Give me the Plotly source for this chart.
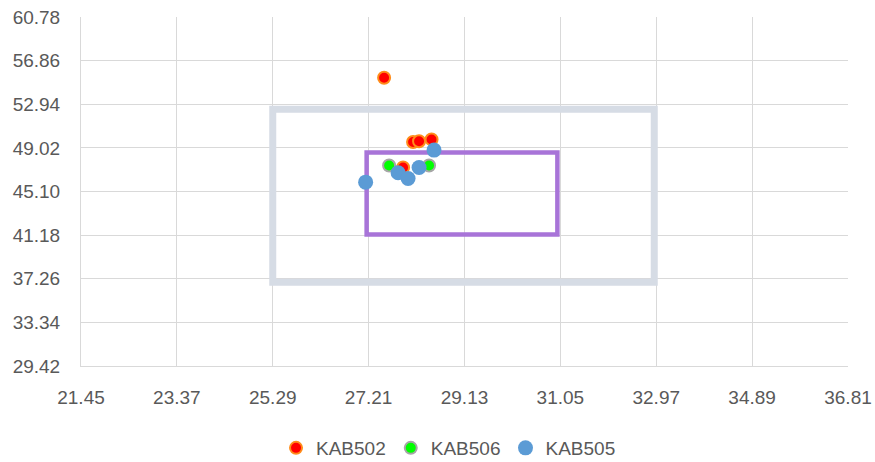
import plotly.graph_objects as go

# tick values shown on the axes
x_ticks = [21.45, 23.37, 25.29, 27.21, 29.13, 31.05, 32.97, 34.89, 36.81]
y_ticks = [29.42, 33.34, 37.26, 41.18, 45.10, 49.02, 52.94, 56.86, 60.78]

# series
kab502_x = [27.52, 28.10, 28.22, 28.47, 27.90]
kab502_y = [55.32, 49.55, 49.62, 49.78, 47.26]

kab506_x = [27.62, 28.42]
kab506_y = [47.44, 47.44]

kab505_x = [28.52, 27.15, 27.80, 28.00, 28.22]
kab505_y = [48.82, 45.94, 46.78, 46.27, 47.26]

# reference boxes (x0, x1, y0, y1)
outer_box = [25.29, 32.93, 36.95, 52.48]
inner_box = [27.17, 30.99, 41.24, 48.61]

font_family = "Liberation Sans, Arial, sans-serif"
grey_text = "#595959"

fig = go.Figure()

fig.add_trace(go.Scatter(
    x=kab502_x, y=kab502_y, mode="markers", name="KAB502",
    marker=dict(size=12, color="#FF0000", line=dict(color="#FF8C1A", width=2)),
))
fig.add_trace(go.Scatter(
    x=kab506_x, y=kab506_y, mode="markers", name="KAB506",
    marker=dict(size=12, color="#00FF00", line=dict(color="#A6A6A6", width=2)),
))
fig.add_trace(go.Scatter(
    x=kab505_x, y=kab505_y, mode="markers", name="KAB505",
    marker=dict(size=15, color="#5B9BD5", line=dict(width=0)),
))

fig.add_shape(type="rect", xref="x", yref="y", layer="between",
              x0=outer_box[0], x1=outer_box[1], y0=outer_box[2], y1=outer_box[3],
              line=dict(color="#D6DCE5", width=7))
fig.add_shape(type="rect", xref="x", yref="y", layer="between",
              x0=inner_box[0], x1=inner_box[1], y0=inner_box[2], y1=inner_box[3],
              line=dict(color="#A874D8", width=4.5))

axis_style = dict(
    showgrid=True, gridcolor="#D9D9D9", gridwidth=1,
    showline=True, linecolor="#D9D9D9", mirror=False,
    zeroline=False, ticks="", automargin=False, ticklabeloverflow="allow",
    tickfont=dict(size=19, color=grey_text, family=font_family),
)

fig.update_xaxes(
    range=[x_ticks[0], x_ticks[-1]], tickvals=x_ticks,
    ticktext=[f"{v:.2f}" for v in x_ticks],
    ticklabelstandoff=14, **axis_style,
)
fig.update_yaxes(
    range=[y_ticks[0], y_ticks[-1]], tickvals=y_ticks,
    ticktext=[f"{v:.2f}" for v in y_ticks],
    ticklabelstandoff=16, **axis_style,
)

fig.update_layout(
    width=875, height=462,
    margin=dict(l=81, r=27, t=17, b=96),
    plot_bgcolor="white", paper_bgcolor="white",
    font=dict(family=font_family, color=grey_text),
    showlegend=True,
    legend=dict(
        orientation="h", xref="container", yref="container",
        x=0.5126, xanchor="center", y=0.0303, yanchor="middle",
        font=dict(size=19, color=grey_text, family=font_family),
        itemsizing="trace", itemwidth=30, tracegroupgap=0,
    ),
)

# drop the default page margin so the figure sits at the window's corner
fig.write_html("out.html", config={"displayModeBar": False},
               post_script="document.body.style.margin='0';")
